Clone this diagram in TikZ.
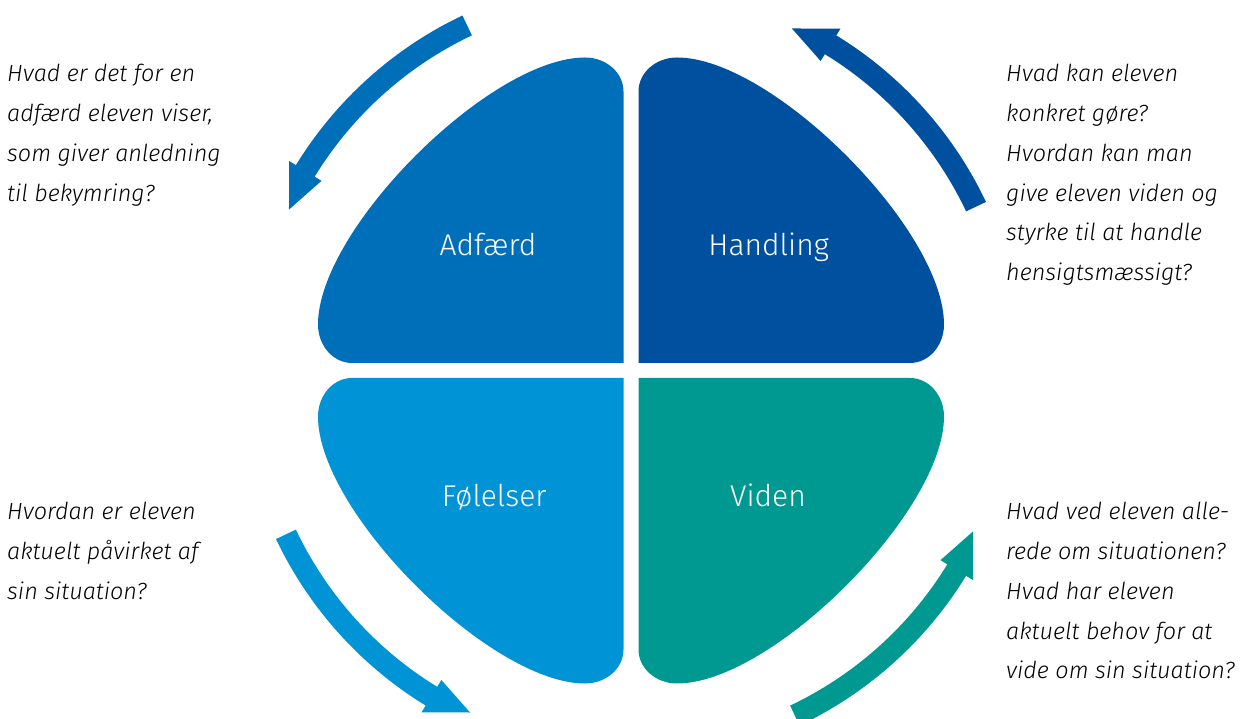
\documentclass[tikz,border=0pt]{standalone}
\usepackage{fontspec}
\setmainfont{Fira Sans Light}
\begin{document}
\begin{tikzpicture}[x=1pt,y=1pt,
  note/.style={anchor=base west, inner sep=0pt, text=black,
    font=\fontsize{23.4}{39.7}\selectfont\itshape},
  label/.style={anchor=base, inner sep=0pt, text=white,
    font=\fontsize{30}{36}\selectfont},
  petal/.pic={\fill[pic actions] (7.5,7.5) -- (279,7.5)
      .. controls (298,7.5) and (313,25) .. (313,46)
      .. controls (313,141) and (141,313) .. (46,313)
      .. controls (25,313) and (7.5,298) .. (7.5,279) -- cycle;},
  turnarrow/.pic={\fill[pic actions] (25.4:371pt)
      arc[start angle=25.4, end angle=58.5, radius=371pt]
      -- (58.5:363pt) -- (64.8:378pt) -- (58.5:401pt) -- (58.5:393pt)
      arc[start angle=58.5, end angle=25.4, radius=393pt] -- cycle;}]
\definecolor{adfcol}{RGB}{0,111,185}
\definecolor{hancol}{RGB}{0,80,160}
\definecolor{folcol}{RGB}{0,147,214}
\definecolor{vidcol}{RGB}{0,153,145}
\useasboundingbox (0,0) rectangle (1240,719);
\coordinate (C) at (631,348.5);

% four quadrant petals
\pic[fill=hancol] at (C) {petal};
\pic[fill=adfcol, xscale=-1] at (C) {petal};
\pic[fill=folcol, scale=-1] at (C) {petal};
\pic[fill=vidcol, yscale=-1] at (C) {petal};

% curved arrows turning counter-clockwise around the circle
\pic[fill=hancol] at (C) {turnarrow};
\pic[fill=adfcol, rotate=90] at (C) {turnarrow};
\pic[fill=folcol, rotate=180] at (C) {turnarrow};
\pic[fill=vidcol, rotate=270] at (C) {turnarrow};

% petal labels
\node[label] (adf) at (488,463.5) {Adfærd};
\node[label] (han) at (768.7,463.5) {Handling};
\node[label] (fol) at (494.3,212) {Følelser};
\node[label] (vid) at (768,212) {Viden};

% questions
\node[note] (qadf) at (7,637) {\begin{tabular}[t]{@{}l@{}}Hvad er det for en\\ adfærd eleven viser,\\ som giver anledning\\ til bekymring?\end{tabular}};
\node[note] (qhan) at (1006,637) {\begin{tabular}[t]{@{}l@{}}Hvad kan eleven\\ konkret gøre?\\ Hvordan kan man\\ give eleven viden og\\ styrke til at handle\\ hensigtsmæssigt?\end{tabular}};
\node[note] (qfol) at (7,199) {\begin{tabular}[t]{@{}l@{}}Hvordan er eleven\\ aktuelt påvirket af\\ sin situation?\end{tabular}};
\node[note] (qvid) at (1006,199) {\begin{tabular}[t]{@{}l@{}}Hvad ved eleven alle-\\ rede om situationen?\\ Hvad har eleven\\ aktuelt behov for at\\ vide om sin situation?\end{tabular}};
\end{tikzpicture}
\end{document}
